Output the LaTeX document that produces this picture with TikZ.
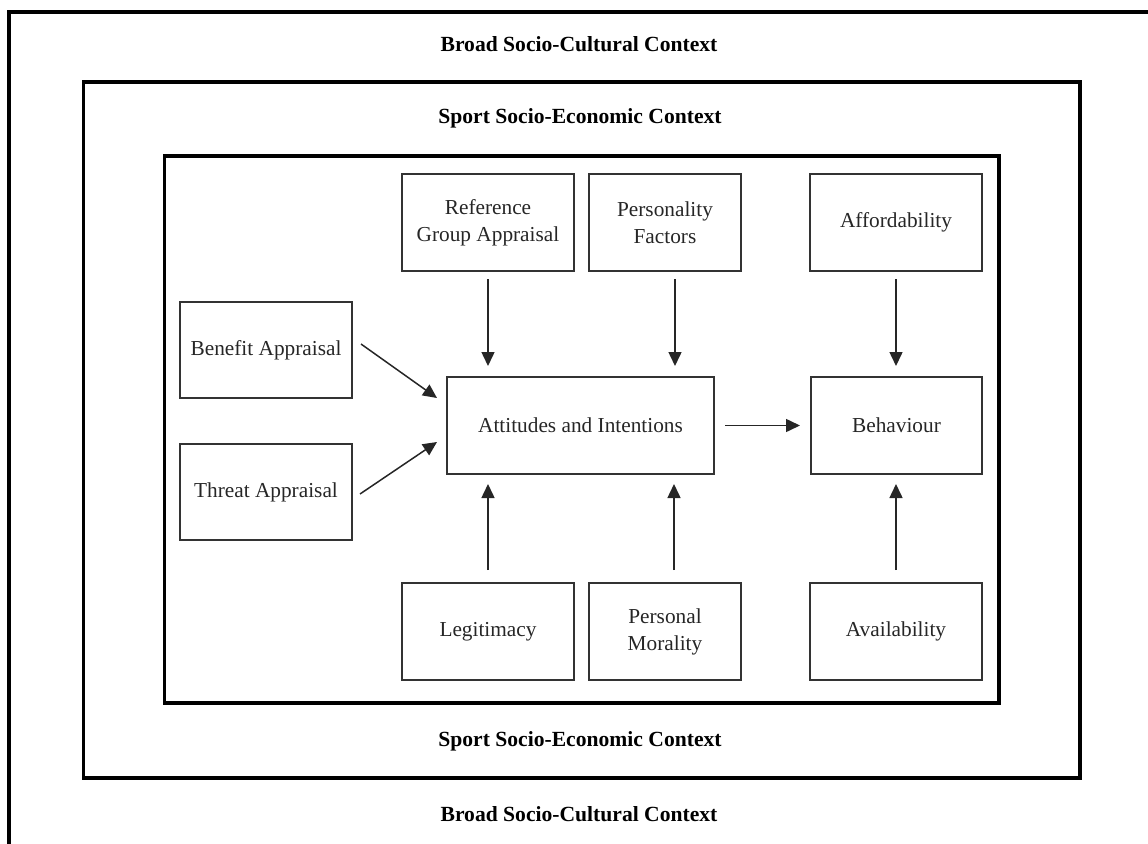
\documentclass[tikz,border=0pt]{standalone}
\usepackage{fontspec}
\setmainfont{Liberation Serif}
\usetikzlibrary{arrows.meta,calc}
\begin{document}
\begin{tikzpicture}[x=1pt,y=-1pt,
  frame/.style={draw=black,line width=3.8pt},
  box/.style={draw=black!80,line width=1.5pt,inner sep=0pt,outer sep=0pt,align=center,
    font=\fontsize{21.3}{27}\selectfont,text=black!85},
  ctx/.style={font=\fontsize{21.6}{24}\selectfont\bfseries,text=black,inner sep=0pt},
  arr/.style={draw=black!85,line width=1.5pt,-{Triangle[length=14pt,width=13pt]}}]
\useasboundingbox (0,0) rectangle (1148,843);
% frames
\draw[frame] (1150,12) -- (9.3,12) -- (9.3,845);
\draw[frame] (83.5,82) rectangle (1080,778);
\draw[frame] (164.5,156) rectangle (999.3,703.3);
% context labels
\node[ctx] (bt) at (579,44) {Broad Socio-Cultural Context};
\node[ctx] (st) at (580,118) {Sport Socio-Economic Context};
\node[ctx] (sb) at (580,741) {Sport Socio-Economic Context};
\node[ctx] (bb) at (579,814) {Broad Socio-Cultural Context};
% boxes
\node[box,minimum width=172pt,minimum height=97pt] (ref) at (488,222.5) {Reference\\Group Appraisal};
\node[box,minimum width=152pt,minimum height=97pt] (per) at (665,222.5) {Personality\\Factors};
\node[box,minimum width=172pt,minimum height=97pt] (aff) at (896,222.5) {Affordability};
\node[box,minimum width=172pt,minimum height=96pt] (ben) at (266,350) {Benefit Appraisal};
\node[box,minimum width=172pt,minimum height=96pt] (thr) at (266,492) {Threat Appraisal};
\node[box,minimum width=267pt,minimum height=97pt] (att) at (580.5,425.5) {Attitudes and Intentions};
\node[box,minimum width=171pt,minimum height=97pt] (beh) at (896.5,425.5) {Behaviour};
\node[box,minimum width=172pt,minimum height=97pt] (leg) at (488,631.5) {Legitimacy};
\node[box,minimum width=152pt,minimum height=97pt] (pm) at (665,631.5) {Personal\\Morality};
\node[box,minimum width=172pt,minimum height=97pt] (ava) at (896,631.5) {Availability};
% arrows
\draw[arr,shorten <=8pt,shorten >=11pt] (ref.south) -- (ref.south |- att.north);
\draw[arr,shorten <=8pt,shorten >=11pt] ([xshift=10pt]per.south) -- ([xshift=10pt]per.south |- att.north);
\draw[arr,shorten <=8pt,shorten >=11pt] (aff.south) -- (aff.south |- beh.north);
\draw[arr,shorten <=13pt,shorten >=10pt] (leg.north) -- (leg.north |- att.south);
\draw[arr,shorten <=13pt,shorten >=10pt] ([xshift=9pt]pm.north) -- ([xshift=9pt]pm.north |- att.south);
\draw[arr,shorten <=13pt,shorten >=10pt] (ava.north) -- (ava.north |- beh.south);
\draw[arr] ([xshift=9pt,yshift=6pt]ben.east) -- ([xshift=-10pt,yshift=27.5pt]att.west);
\draw[arr] ([xshift=8pt,yshift=-2pt]thr.east) -- ([xshift=-10pt,yshift=-16.5pt]att.west);
\draw[arr,shorten <=11pt,shorten >=11pt] (att.east) -- (beh.west);
\end{tikzpicture}
\end{document}
